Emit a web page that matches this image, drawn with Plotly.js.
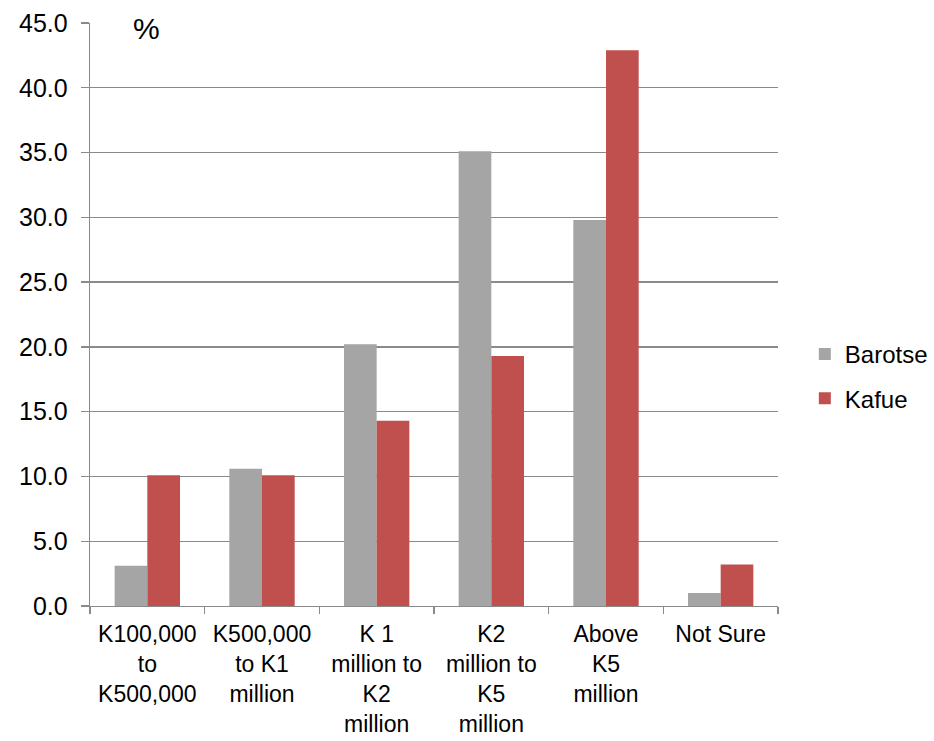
<!DOCTYPE html>
<html>
<head>
<meta charset="utf-8">
<script src="https://cdn.plot.ly/plotly-3.0.1.min.js"></script>
<style>
  html, body { margin: 0; padding: 0; background: #fff; }
  #chart { width: 934px; height: 741px; }
</style>
</head>
<body>
<div id="chart"></div>
<script>
// Expected price ranges (Zambian Kwacha) by area
const categories = [
  "K100,000<br>to<br>K500,000",
  "K500,000<br>to K1<br>million",
  "K 1<br>million to<br>K2<br>million",
  "K2<br>million to<br>K5<br>million",
  "Above<br>K5<br>million",
  "Not Sure"
];
const barotse = [3.1, 10.6, 20.2, 35.1, 29.8, 1.0];
const kafue   = [10.1, 10.1, 14.3, 19.3, 42.9, 3.2];
const yTicks  = [0, 5, 10, 15, 20, 25, 30, 35, 40, 45];

const FONT = "Liberation Sans, Arial, sans-serif";
const AXIS_GREY = "#8a8a8a";

const traces = [
  {
    type: "bar", name: "Barotse", x: categories, y: barotse,
    marker: { color: "#a5a5a5" }, legendgroup: "a"
  },
  {
    type: "bar", name: "Kafue", x: categories, y: kafue,
    marker: { color: "#c0504d" }, legendgroup: "b"
  }
];

const layout = {
  width: 934, height: 741,
  margin: { l: 90, r: 156, t: 23, b: 135, autoexpand: false },
  paper_bgcolor: "#fff", plot_bgcolor: "#fff",
  font: { family: FONT, size: 24, color: "#000" },
  barmode: "group",
  bargap: 0.43,
  bargroupgap: 0,
  showlegend: true,
  legend: {
    x: 1.039, xanchor: "left",
    y: 0.47, yanchor: "top",
    font: { family: FONT, size: 24, color: "#000" },
    traceorder: "grouped",
    tracegroupgap: 10,
    bgcolor: "rgba(0,0,0,0)"
  },
  xaxis: {
    type: "category",
    showline: true, linecolor: AXIS_GREY, linewidth: 1.3,
    ticks: "outside", tickson: "boundaries", ticklen: 7,
    tickcolor: AXIS_GREY, tickwidth: 1.3,
    ticklabelstandoff: 7,
    showgrid: false,
    tickfont: { family: FONT, size: 23, color: "#000" },
    fixedrange: true
  },
  yaxis: {
    range: [0, 45],
    tickvals: yTicks,
    tickformat: ".1f",
    showline: true, linecolor: AXIS_GREY, linewidth: 1.3,
    ticks: "outside", ticklen: 8, tickcolor: AXIS_GREY, tickwidth: 1.3,
    ticklabelstandoff: 8,
    showgrid: true, gridcolor: AXIS_GREY, gridwidth: 1.3,
    zeroline: false,
    tickfont: { family: FONT, size: 25, color: "#000" },
    fixedrange: true
  },
  annotations: [
    {
      text: "%", xref: "paper", yref: "paper",
      x: 0.082, y: 1.0, xanchor: "center", yanchor: "middle",
      yshift: -5,
      showarrow: false,
      font: { family: FONT, size: 30, color: "#000" }
    }
  ]
};

Plotly.newPlot("chart", traces, layout, { displayModeBar: false, staticPlot: true });
</script>
</body>
</html>
